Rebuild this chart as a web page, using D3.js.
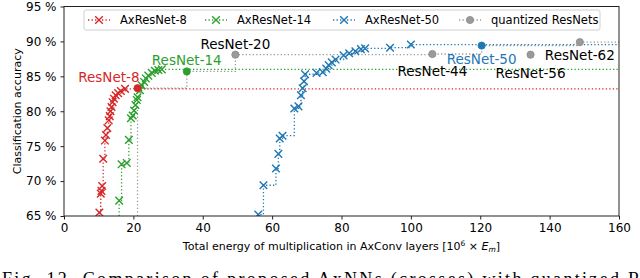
<!DOCTYPE html>
<html>
<head>
<meta charset="utf-8">
<script src="https://d3js.org/d3.v7.min.js"></script>
<style>
  body { margin: 0; background: #fff; }
  svg { display: block; font-family: "DejaVu Sans", sans-serif; }
  .tick text { fill: #000; }
  .dotted { fill: none; stroke-width: 1.3px; stroke-dasharray: 1.3 2.2; }
</style>
</head>
<body>
<div id="chart"></div>
<script>
// AxResNet results: energy [10^6 x Em] and accuracy [%]
const ax8Energy = [10.2, 10.6, 10.8, 11.0, 11.3, 11.8, 12.1, 12.5, 12.9, 13.2, 13.4, 13.7, 14.0, 14.4, 14.9, 15.6, 16.4, 17.6];
const ax8Acc    = [65.5, 68.2, 68.6, 69.3, 73.2, 75.8, 76.6, 77.6, 78.7, 79.3, 80.0, 80.6, 81.3, 81.8, 82.3, 82.6, 82.9, 83.2];

const ax14Energy = [15.9, 16.6, 18.1, 18.7, 19.3, 19.8, 20.2, 20.6, 21.0, 21.2, 21.9, 22.4, 23.1, 23.6, 24.3, 25.3, 26.2, 27.2, 28.2];
const ax14Acc    = [67.2, 72.4, 72.6, 75.9, 79.0, 79.4, 80.1, 80.9, 81.6, 82.0, 83.0, 83.7, 84.2, 84.7, 85.1, 85.5, 85.8, 85.9, 86.0];

const ax50Energy = [56.0, 57.5, 61.1, 61.8, 62.2, 63.0, 66.4, 67.6, 68.3, 68.8, 69.2, 69.5, 72.8, 74.6, 75.6, 76.3, 77.2, 78.3, 80.6, 82.2, 84.0, 85.6, 86.8, 94.0, 100.0];
const ax50Acc    = [65.2, 69.4, 71.8, 73.9, 76.1, 76.5, 80.4, 80.7, 82.3, 83.3, 84.3, 85.3, 85.5, 85.6, 86.1, 86.6, 87.0, 87.4, 88.0, 88.3, 88.6, 88.9, 89.0, 89.1, 89.55];

// quantized ResNets
const qNames  = ["ResNet-8", "ResNet-14", "ResNet-20", "ResNet-44", "ResNet-50", "ResNet-56", "ResNet-62"];
const qEnergy = [21.2, 35.4, 49.4, 106.2, 120.4, 134.5, 148.7];
const qAcc    = [83.3, 85.7, 88.1, 88.2, 89.4, 88.1, 89.9];

const xTicks = [0, 20, 40, 60, 80, 100, 120, 140, 160];
const yTicks = [65, 70, 75, 80, 85, 90, 95];

const width = 640, height = 278;
const svg = d3.select("#chart").append("svg")
  .attr("width", width).attr("height", height);
svg.append("rect").attr("width", width).attr("height", height).attr("fill", "#fff");

const x = d3.scaleLinear().domain([0, 160]).range([64, 619]);
const y = d3.scaleLinear().domain([65, 95]).range([216, 6.5]);

const red = "#d62728", green = "#2ca02c", blue = "#1f77b4", gray = "#9a9a9a";

svg.append("defs").append("clipPath").attr("id", "plot")
  .append("rect").attr("x", x(0)).attr("y", y(95))
  .attr("width", x(160) - x(0)).attr("height", y(65) - y(95));

const g = svg.append("g").attr("clip-path", "url(#plot)");

const toPts = (xs, ys) => xs.map((v, i) => ({ e: v, a: ys[i] }));

// pareto-style step line: up from the bottom, through the points, out to the right edge
function stepPath(pts) {
  const s = pts.slice().sort((p, q) => p.e - q.e);
  const path = [{ e: s[0].e, a: y.domain()[0] }, ...s, { e: x.domain()[1], a: s[s.length - 1].a }];
  return d3.line().x(d => x(d.e)).y(d => y(d.a)).curve(d3.curveStepAfter)(path);
}

const qPts = qNames.map((n, i) => ({ name: n, e: qEnergy[i], a: qAcc[i] }));
let best = -Infinity;
const qFront = qPts.slice().sort((p, q) => p.e - q.e).filter(p => (p.a > best ? (best = p.a, true) : false));

const series = [
  { name: "AxResNet-8", color: red, pts: toPts(ax8Energy, ax8Acc) },
  { name: "AxResNet-14", color: green, pts: toPts(ax14Energy, ax14Acc) },
  { name: "AxResNet-50", color: blue, pts: toPts(ax50Energy, ax50Acc) }
];

g.append("path").attr("class", "dotted").attr("stroke", gray).attr("d", stepPath(qFront));
series.forEach(s => {
  g.append("path").attr("class", "dotted").attr("stroke", s.color).attr("d", stepPath(s.pts));
});

const cross = "M-3.8,-3.8L3.8,3.8M-3.8,3.8L3.8,-3.8";
series.forEach(s => {
  g.selectAll(null).data(s.pts).join("path")
    .attr("d", cross)
    .attr("transform", d => `translate(${x(d.e)},${y(d.a)})`)
    .attr("stroke", s.color).attr("stroke-width", 1.4).attr("fill", "none");
});

const qColor = { "ResNet-8": red, "ResNet-14": green, "ResNet-50": blue };
g.selectAll(null).data(qPts).join("circle")
  .attr("cx", d => x(d.e)).attr("cy", d => y(d.a)).attr("r", 3.6)
  .attr("fill", d => qColor[d.name] || gray)
  .attr("stroke", d => qColor[d.name] || "#8a8a8a").attr("stroke-width", 0.8);

// labels of quantized ResNets
const labelPlace = {
  "ResNet-8":  { dx: 2, dy: -6, anchor: "end" },
  "ResNet-14": { dx: 0, dy: -6, anchor: "middle" },
  "ResNet-20": { dx: 0, dy: -6, anchor: "middle" },
  "ResNet-44": { dx: 0, dy: 22, anchor: "middle" },
  "ResNet-50": { dx: 0, dy: 18, anchor: "middle" },
  "ResNet-56": { dx: 0, dy: 23, anchor: "middle" },
  "ResNet-62": { dx: 0, dy: 18, anchor: "middle" }
};
svg.selectAll(null).data(qPts).join("text")
  .attr("x", d => x(d.e) + labelPlace[d.name].dx)
  .attr("y", d => y(d.a) + labelPlace[d.name].dy)
  .attr("text-anchor", d => labelPlace[d.name].anchor)
  .attr("font-size", 13.5)
  .attr("fill", d => qColor[d.name] || "#000")
  .text(d => d.name);

// axes
const xAxis = svg.append("g").attr("transform", `translate(0,${y(65)})`)
  .call(d3.axisBottom(x).tickValues(xTicks).tickSize(3.5).tickPadding(4));
const yAxis = svg.append("g").attr("transform", `translate(${x(0)},0)`)
  .call(d3.axisLeft(y).tickValues(yTicks).tickSize(3.5).tickPadding(4).tickFormat(d => d + " %"));
[xAxis, yAxis].forEach(a => {
  a.select(".domain").remove();
  a.selectAll("line").attr("stroke", "#222");
  a.selectAll("text").attr("font-family", "DejaVu Sans").attr("font-size", 12);
});
svg.append("rect").attr("x", x(0)).attr("y", y(95))
  .attr("width", x(160) - x(0)).attr("height", y(65) - y(95))
  .attr("fill", "none").attr("stroke", "#222").attr("stroke-width", 1);

const xl = svg.append("text").attr("x", (x(0) + x(160)) / 2).attr("y", 250)
  .attr("text-anchor", "middle").attr("font-size", 11);
xl.append("tspan").text("Total energy of multiplication in AxConv layers [10");
xl.append("tspan").attr("font-size", 7.5).attr("dy", -4).text("6");
xl.append("tspan").attr("dy", 4).text(" \u00d7 ");
xl.append("tspan").attr("font-style", "italic").text("E");
xl.append("tspan").attr("font-size", 7.5).attr("font-style", "italic").attr("dy", 2).text("m");
xl.append("tspan").attr("dy", -2).text("]");

svg.append("text").attr("transform", `translate(21,${(y(65) + y(95)) / 2}) rotate(-90)`)
  .attr("text-anchor", "middle").attr("font-size", 11).text("Classification accuracy");

// legend
const legend = svg.append("g");
legend.append("rect").attr("x", 84).attr("y", 10).attr("width", 516).attr("height", 20)
  .attr("rx", 2).attr("fill", "#fff").attr("fill-opacity", 0.85).attr("stroke", "#d0d0d0");
const legItems = [
  { name: "AxResNet-8", color: red, mark: "x", lx: 88 },
  { name: "AxResNet-14", color: green, mark: "x", lx: 205 },
  { name: "AxResNet-50", color: blue, mark: "x", lx: 333 },
  { name: "quantized ResNets", color: gray, mark: "o", lx: 459 }
];
legItems.forEach(d => {
  legend.append("line").attr("class", "dotted").attr("stroke", d.color)
    .attr("x1", d.lx).attr("x2", d.lx + 22).attr("y1", 20).attr("y2", 20);
  if (d.mark === "x") {
    legend.append("path").attr("d", cross).attr("transform", `translate(${d.lx + 11},20)`)
      .attr("stroke", d.color).attr("stroke-width", 1.4).attr("fill", "none");
  } else {
    legend.append("circle").attr("cx", d.lx + 11).attr("cy", 20).attr("r", 3.6)
      .attr("fill", d.color).attr("stroke", "#8a8a8a").attr("stroke-width", 0.8);
  }
  legend.append("text").attr("x", d.lx + 32).attr("y", 24).attr("font-size", 11.5).text(d.name);
});

// caption, cut by the bottom edge as in the source figure
svg.append("text").attr("x", 2).attr("y", 285)
  .attr("font-family", "Liberation Serif, serif").attr("font-size", 18)
  .attr("textLength", 700).attr("lengthAdjust", "spacing")
  .text("Fig. 12.   Comparison of proposed AxNNs (crosses) with quantized ResNets");
</script>
</body>
</html>
